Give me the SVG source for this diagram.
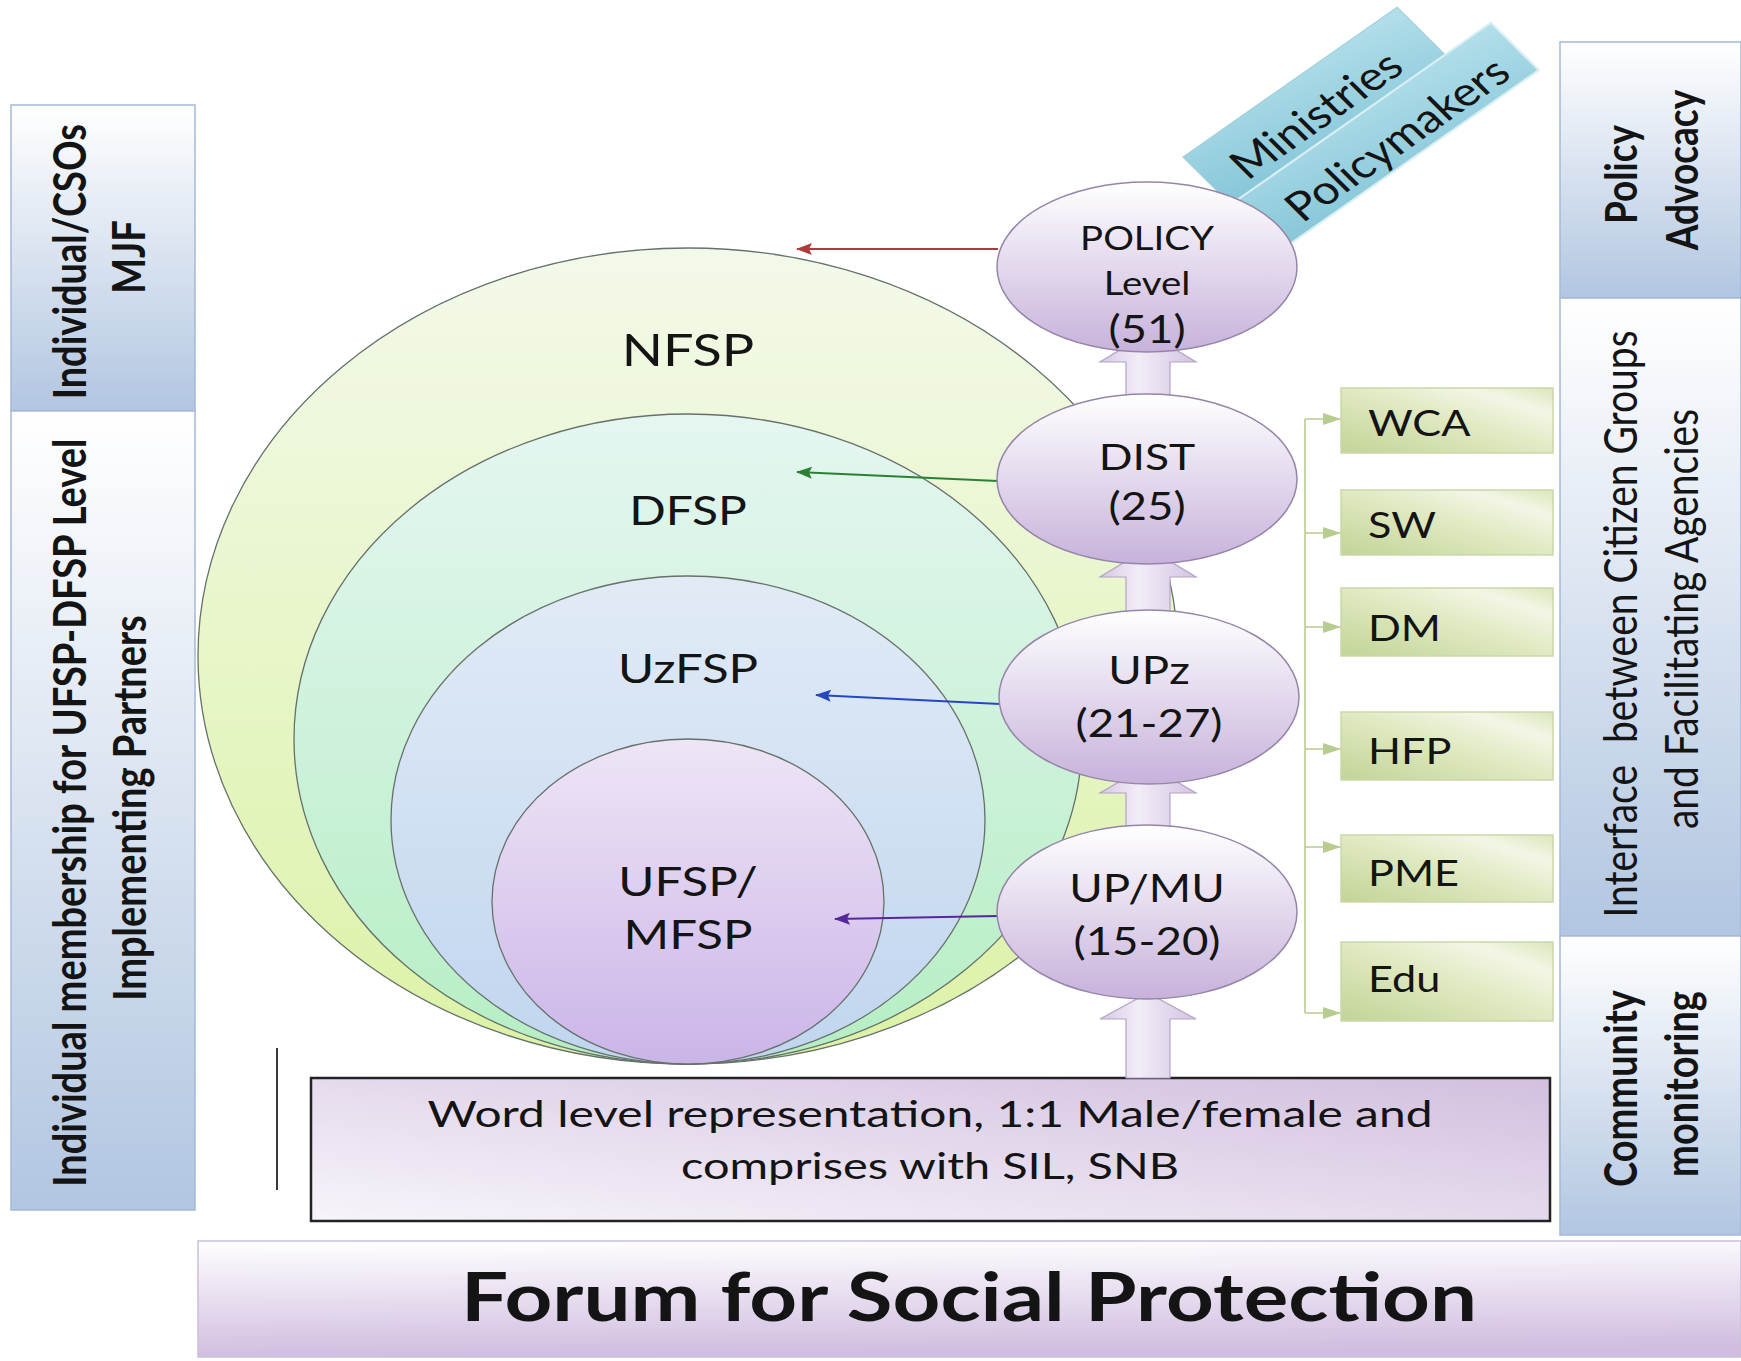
<svg xmlns="http://www.w3.org/2000/svg" width="1741" height="1361" viewBox="0 0 1741 1361">
<defs>
  <style>
    .t { font-family: Lato, "Open Sans", "Liberation Sans", sans-serif; fill: #141414; }
    .b { font-weight: 700; }
    .panel { fill: url(#gPanel); stroke: #a3b9d8; stroke-width: 1.5; }
    .oval { fill: url(#gOval); stroke: #9586a9; stroke-width: 1.5; }
    .blk { fill: url(#gArrow); stroke: #b3a4c6; stroke-width: 1.2; }
    .gbox { fill: url(#gGreen); stroke: #cad8aa; stroke-width: 1.5; }
    .circ { stroke: #66716a; stroke-width: 1.3; }
    .gline { fill: none; stroke: #b9cc90; stroke-width: 1.6; }
  </style>
  <linearGradient id="gPanel" x1="0" y1="0" x2="0" y2="1">
    <stop offset="0" stop-color="#ffffff"/>
    <stop offset="1" stop-color="#b2c6e1"/>
  </linearGradient>
  <linearGradient id="gBanner" x1="0" y1="0" x2="0.1" y2="1">
    <stop offset="0" stop-color="#ffffff"/>
    <stop offset="1" stop-color="#d0bde0"/>
  </linearGradient>
  <linearGradient id="gWord" x1="0" y1="1" x2="1" y2="0">
    <stop offset="0" stop-color="#f7f4fa"/>
    <stop offset="1" stop-color="#d2c0df"/>
  </linearGradient>
  <linearGradient id="gOval" x1="0" y1="0" x2="0" y2="1">
    <stop offset="0" stop-color="#ffffff"/>
    <stop offset="1" stop-color="#c7b2db"/>
  </linearGradient>
  <linearGradient id="gArrow" x1="0" y1="0" x2="1" y2="0">
    <stop offset="0" stop-color="#d6c7e4"/>
    <stop offset="0.4" stop-color="#f2edf7"/>
    <stop offset="1" stop-color="#d3c3e2"/>
  </linearGradient>
  <linearGradient id="gNFSP" x1="0" y1="0" x2="0" y2="1">
    <stop offset="0" stop-color="#f3f9ea"/>
    <stop offset="1" stop-color="#dcf2a6"/>
  </linearGradient>
  <linearGradient id="gDFSP" x1="0" y1="0" x2="0" y2="1">
    <stop offset="0" stop-color="#e5f6f1"/>
    <stop offset="1" stop-color="#b5eec3"/>
  </linearGradient>
  <linearGradient id="gUz" x1="0" y1="0" x2="0" y2="1">
    <stop offset="0" stop-color="#e1ebf6"/>
    <stop offset="1" stop-color="#c0d5ef"/>
  </linearGradient>
  <linearGradient id="gUF" x1="0" y1="0" x2="0" y2="1">
    <stop offset="0" stop-color="#eee5f6"/>
    <stop offset="1" stop-color="#cbb5e8"/>
  </linearGradient>
  <linearGradient id="gGreen" x1="0" y1="1" x2="1" y2="0">
    <stop offset="0" stop-color="#c2d496"/>
    <stop offset="0.55" stop-color="#e3ebc6"/>
    <stop offset="0.8" stop-color="#f3f6e6"/>
    <stop offset="1" stop-color="#dbe6ba"/>
  </linearGradient>
  <linearGradient id="gTeal" x1="0" y1="1" x2="1" y2="0">
    <stop offset="0" stop-color="#86c6d8"/>
    <stop offset="1" stop-color="#b3dfea"/>
  </linearGradient>
  <marker id="mR" markerUnits="userSpaceOnUse" markerWidth="16" markerHeight="12" refX="15" refY="6" orient="auto">
    <path d="M0,0 L16,6 L0,12 L3,6 Z" fill="#ae3b3b"/>
  </marker>
  <marker id="mGr" markerUnits="userSpaceOnUse" markerWidth="16" markerHeight="12" refX="15" refY="6" orient="auto">
    <path d="M0,0 L16,6 L0,12 L3,6 Z" fill="#2c8036"/>
  </marker>
  <marker id="mB" markerUnits="userSpaceOnUse" markerWidth="16" markerHeight="12" refX="15" refY="6" orient="auto">
    <path d="M0,0 L16,6 L0,12 L3,6 Z" fill="#2747c2"/>
  </marker>
  <marker id="mP" markerUnits="userSpaceOnUse" markerWidth="16" markerHeight="12" refX="15" refY="6" orient="auto">
    <path d="M0,0 L16,6 L0,12 L3,6 Z" fill="#55279a"/>
  </marker>
  <marker id="mG" markerUnits="userSpaceOnUse" markerWidth="18" markerHeight="14" refX="18" refY="7" orient="auto">
    <path d="M0,1 L18,7 L0,13 Z" fill="#b9cc90"/>
  </marker>
</defs>

<rect width="1741" height="1361" fill="#ffffff"/>

<!-- side panels -->
<g id="panel-individual-csos">
  <rect class="panel" x="11" y="105" width="184" height="306"/>
  <text class="t b" font-size="38" text-anchor="middle" transform="translate(86,257) scale(1.2,1) rotate(-90)">
    <tspan x="0" y="0">Individual/CSOs</tspan>
    <tspan x="0" dy="49">MJF</tspan>
  </text>
</g>
<g id="panel-individual-membership">
  <rect class="panel" x="11" y="411" width="184" height="799"/>
  <text class="t b" font-size="38" text-anchor="middle" transform="translate(86,808) scale(1.2,1) rotate(-90)">
    <tspan x="0" y="0">Individual membership for UFSP-DFSP Level</tspan>
    <tspan x="0" dy="50">Implementing Partners</tspan>
  </text>
</g>
<g id="panel-policy-advocacy">
  <rect class="panel" x="1560" y="42" width="181" height="256"/>
  <text class="t b" font-size="37" text-anchor="middle" transform="translate(1637,170) scale(1.2,1) rotate(-90)">
    <tspan x="0" y="0">Policy</tspan>
    <tspan x="0" dy="51">Advocacy</tspan>
  </text>
</g>
<g id="panel-interface">
  <rect class="panel" x="1560" y="298" width="181" height="638"/>
  <text class="t" font-size="39" text-anchor="middle" transform="translate(1637,619) scale(1.2,1) rotate(-90)">
    <tspan x="0" y="0">Interface <tspan dx="12">between Citizen Groups</tspan></tspan>
    <tspan x="0" dy="51">and Facilitating Agencies</tspan>
  </text>
</g>
<g id="panel-community-monitoring">
  <rect class="panel" x="1560" y="936" width="181" height="299"/>
  <text class="t b" font-size="38" text-anchor="middle" transform="translate(1637,1084) scale(1.2,1) rotate(-90)">
    <tspan x="0" y="0">Community</tspan>
    <tspan x="0" dy="51">monitoring</tspan>
  </text>
</g>

<!-- banner -->
<g id="forum">
  <rect x="198" y="1241" width="1543" height="116" fill="url(#gBanner)" stroke="#c9c0da" stroke-width="1.5"/>
  <text class="t b" x="969" y="1321" font-size="66" text-anchor="middle" textLength="1016" lengthAdjust="spacingAndGlyphs">Forum for Social Protection</text>
</g>

<!-- word box -->
<g id="word-level">
  <rect x="311" y="1078" width="1239" height="143" fill="url(#gWord)" stroke="#222222" stroke-width="2.5"/>
  <text class="t" x="930" y="1127" font-size="37" text-anchor="middle" textLength="1005" lengthAdjust="spacingAndGlyphs">Word level representation, 1:1 Male/female and</text>
  <text class="t" x="930" y="1179" font-size="37" text-anchor="middle" textLength="498" lengthAdjust="spacingAndGlyphs">comprises with SIL, SNB</text>
</g>
<line x1="277" y1="1048" x2="277" y2="1190" stroke="#3a3a3a" stroke-width="2"/>

<!-- nested circles -->
<g id="nfsp">
  <ellipse class="circ" cx="688" cy="656" rx="490" ry="408" fill="url(#gNFSP)"/>
  <text class="t" font-size="45" text-anchor="middle" transform="translate(688,366) scale(1.2,1)">NFSP</text>
</g>
<g id="dfsp">
  <ellipse class="circ" cx="688" cy="739" rx="394" ry="325" fill="url(#gDFSP)"/>
  <text class="t" font-size="40" text-anchor="middle" transform="translate(688,525) scale(1.2,1)">DFSP</text>
</g>
<g id="uzfsp">
  <ellipse class="circ" cx="688" cy="820" rx="297" ry="244" fill="url(#gUz)"/>
  <text class="t" font-size="41" text-anchor="middle" transform="translate(688,683) scale(1.2,1)">UzFSP</text>
</g>
<g id="ufsp">
  <ellipse class="circ" cx="688" cy="901.5" rx="196" ry="162.5" fill="url(#gUF)"/>
  <text class="t" font-size="41" text-anchor="middle" transform="translate(688,896) scale(1.2,1)">UFSP/</text>
  <text class="t" font-size="41" text-anchor="middle" transform="translate(688,949) scale(1.2,1)">MFSP</text>
</g>

<!-- connectors -->
<g id="connectors">
  <line x1="998" y1="249" x2="797" y2="249" stroke="#ae3b3b" stroke-width="2" marker-end="url(#mR)"/>
  <line x1="998" y1="481" x2="797" y2="472" stroke="#2c8036" stroke-width="2" marker-end="url(#mGr)"/>
  <line x1="1000" y1="704" x2="816" y2="695" stroke="#2747c2" stroke-width="2" marker-end="url(#mB)"/>
  <line x1="998" y1="916" x2="835" y2="919" stroke="#55279a" stroke-width="2" marker-end="url(#mP)"/>
  <path class="blk" d="M1148,333 L1196,362 L1170,362 L1170,400 L1126,400 L1126,362 L1100,362 Z"/>
  <path class="blk" d="M1148,548 L1196,577 L1170,577 L1170,615 L1126,615 L1126,577 L1100,577 Z"/>
  <path class="blk" d="M1148,765 L1196,793 L1170,793 L1170,830 L1126,830 L1126,793 L1100,793 Z"/>
  <path class="blk" d="M1148,993 L1196,1019 L1170,1019 L1170,1078 L1126,1078 L1126,1019 L1100,1019 Z"/>
  <path class="gline" d="M1305,419 V1013"/>
  <path class="gline" d="M1305,419 H1341" marker-end="url(#mG)"/>
  <path class="gline" d="M1305,533 H1341" marker-end="url(#mG)"/>
  <path class="gline" d="M1305,627 H1341" marker-end="url(#mG)"/>
  <path class="gline" d="M1305,749 H1341" marker-end="url(#mG)"/>
  <path class="gline" d="M1305,847 H1341" marker-end="url(#mG)"/>
  <path class="gline" d="M1305,1013 H1341" marker-end="url(#mG)"/>
</g>

<!-- tilted boxes -->
<g id="ministries" transform="translate(1183,157) scale(1.2,1) rotate(-40)">
  <rect x="0" y="0" width="233" height="62" fill="url(#gTeal)" stroke="#9ccfdc" stroke-width="1"/>
  <text class="t" x="112" y="53" font-size="40" text-anchor="middle">Ministries</text>
</g>
<g id="policymakers" transform="translate(1183,157) scale(1.2,1) rotate(-40)">
  <rect x="-7" y="62" width="290" height="62" fill="url(#gTeal)" stroke="#d9eff5" stroke-width="2"/>
  <text class="t" x="148" y="115" font-size="40" text-anchor="middle">Policymakers</text>
</g>

<!-- ovals -->
<g id="policy-level">
  <ellipse class="oval" cx="1147" cy="267" rx="150" ry="85"/>
  <text class="t" font-size="32" text-anchor="middle" transform="translate(1147,250) scale(1.2,1)">POLICY</text>
  <text class="t" font-size="32" text-anchor="middle" transform="translate(1147,295) scale(1.2,1)">Level</text>
  <text class="t" font-size="38" text-anchor="middle" transform="translate(1147,343) scale(1.2,1)">(51)</text>
</g>
<g id="dist">
  <ellipse class="oval" cx="1147" cy="479" rx="150" ry="85"/>
  <text class="t" font-size="37" text-anchor="middle" transform="translate(1147,470) scale(1.2,1)">DIST</text>
  <text class="t" font-size="38" text-anchor="middle" transform="translate(1147,520) scale(1.2,1)">(25)</text>
</g>
<g id="upz">
  <ellipse class="oval" cx="1149" cy="697" rx="150" ry="87"/>
  <text class="t" font-size="38" text-anchor="middle" transform="translate(1149,684) scale(1.2,1)">UPz</text>
  <text class="t" font-size="38" text-anchor="middle" transform="translate(1149,737) scale(1.2,1)">(21-27)</text>
</g>
<g id="up-mu">
  <ellipse class="oval" cx="1147" cy="912" rx="150" ry="87"/>
  <text class="t" font-size="38" text-anchor="middle" transform="translate(1147,902) scale(1.2,1)">UP/MU</text>
  <text class="t" font-size="38" text-anchor="middle" transform="translate(1147,955) scale(1.2,1)">(15-20)</text>
</g>

<!-- green boxes -->
<g id="wca">
  <rect class="gbox" x="1341" y="388" width="212" height="65"/>
  <text class="t" font-size="36" transform="translate(1368,436) scale(1.2,1)">WCA</text>
</g>
<g id="sw">
  <rect class="gbox" x="1341" y="490" width="212" height="65"/>
  <text class="t" font-size="36" transform="translate(1368,538) scale(1.2,1)">SW</text>
</g>
<g id="dm">
  <rect class="gbox" x="1341" y="588" width="212" height="68"/>
  <text class="t" font-size="36" transform="translate(1368,641) scale(1.2,1)">DM</text>
</g>
<g id="hfp">
  <rect class="gbox" x="1341" y="712" width="212" height="68"/>
  <text class="t" font-size="36" transform="translate(1368,764) scale(1.2,1)">HFP</text>
</g>
<g id="pme">
  <rect class="gbox" x="1341" y="835" width="212" height="67"/>
  <text class="t" font-size="36" transform="translate(1368,886) scale(1.2,1)">PME</text>
</g>
<g id="edu">
  <rect class="gbox" x="1341" y="942" width="212" height="79"/>
  <text class="t" font-size="36" transform="translate(1368,992) scale(1.2,1)">Edu</text>
</g>
</svg>
